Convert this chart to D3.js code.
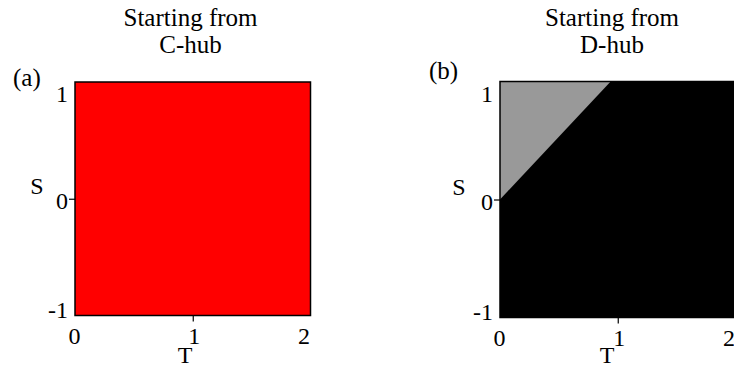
<!DOCTYPE html>
<html>
<head>
<meta charset="utf-8">
<script src="https://cdn.jsdelivr.net/npm/d3@7"></script>
<style>
  body { margin: 0; background: #fff; }
  text { font-family: "Liberation Serif", "Times New Roman", Times, serif; fill: #000; }
</style>
</head>
<body>
<svg id="chart" width="734" height="370"></svg>
<script>
// ---- data ----
const panelLabels = ["(a)", "(b)"];
const titleLine1 = ["Starting from", "Starting from"];
const titleLine2 = ["C-hub", "D-hub"];
const tDomain = [0, 2];
const sDomain = [-1, 1];
const tTicks = [0, 1, 2];
const sTicks = [-1, 0, 1];
// regions in (T, S) coordinates
const regionsA = [
  { fill: "#ff0000", pts: [[0, -1], [2, -1], [2, 1], [0, 1]] }
];
const regionsB = [
  { fill: "#000000", pts: [[0, -1], [2, -1], [2, 1], [0, 1]] },
  { fill: "#999999", pts: [[0, 0], [0, 1], [0.94, 1]] }
];
const panelRegions = [regionsA, regionsB];

// ---- layout ----
const svg = d3.select("#chart");
const layouts = [
  { x0: 75, x1: 310.5, y0: 315.5, y1: 82, titleX: 190.5, lab: [13, 86], sLab: [37, 194], tLab: [185, 363] },
  { x0: 500, x1: 735.5, y0: 317.5, y1: 81.5, titleX: 612, lab: [429, 79], sLab: [459, 195], tLab: [607, 363] }
];
const yLabelShift = { "1": 12, "0": 2, "-1": -6 };
const xLabelShift = { "0": -1, "1": 1, "2": -7 };

layouts.forEach((L, i) => {
  const x = d3.scaleLinear().domain(tDomain).range([L.x0, L.x1]);
  const y = d3.scaleLinear().domain(sDomain).range([L.y0, L.y1]);
  const g = svg.append("g");

  const line = d3.line().x(d => x(d[0])).y(d => y(d[1]));
  g.selectAll("path.region").data(panelRegions[i]).enter().append("path")
    .attr("class", "region")
    .attr("d", d => line(d.pts) + "Z")
    .attr("fill", d => d.fill)
    .attr("stroke", "none");

  g.append("rect")
    .attr("x", x(tDomain[0])).attr("y", y(sDomain[1]))
    .attr("width", x(tDomain[1]) - x(tDomain[0]))
    .attr("height", y(sDomain[0]) - y(sDomain[1]))
    .attr("fill", "none").attr("stroke", "#000").attr("stroke-width", 1.5);

  const xAxis = g.append("g")
    .attr("transform", `translate(0,${L.y0})`)
    .call(d3.axisBottom(x).tickValues(tTicks).tickFormat(d3.format("d")).tickSize(6).tickPadding(5));
  const yAxis = g.append("g")
    .attr("transform", `translate(${L.x0},0)`)
    .call(d3.axisLeft(y).tickValues(sTicks).tickFormat(d => d3.format("d")(d).replace("−", "-")).tickSize(6).tickPadding(1));
  [xAxis, yAxis].forEach(a => {
    a.select(".domain").remove();
    a.selectAll("line").attr("stroke", "#000").attr("stroke-width", 1.2);
    a.selectAll("text").style("font-family", '"Liberation Serif", "Times New Roman", Times, serif').style("font-size", "24px").attr("fill", "#000");
  });
  xAxis.selectAll(".tick line").filter(d => d === 0 || d === 2).remove();
  yAxis.selectAll(".tick line").filter(d => d !== 0).remove();
  xAxis.selectAll("text").attr("dx", d => xLabelShift[String(d)]);
  yAxis.selectAll("text").attr("dy", d => (0.32 * 24 + yLabelShift[String(d)]) + "px");

  g.append("text").attr("x", L.titleX).attr("y", 26).attr("text-anchor", "middle")
    .style("font-size", "25px").text(titleLine1[i]);
  g.append("text").attr("x", L.titleX).attr("y", 53).attr("text-anchor", "middle")
    .style("font-size", "25px").text(titleLine2[i]);
  g.append("text").attr("x", L.lab[0]).attr("y", L.lab[1])
    .style("font-size", "25px").text(panelLabels[i]);
  g.append("text").attr("x", L.sLab[0]).attr("y", L.sLab[1]).attr("text-anchor", "middle")
    .style("font-size", "24px").text("S");
  g.append("text").attr("x", L.tLab[0]).attr("y", L.tLab[1]).attr("text-anchor", "middle")
    .style("font-size", "24px").text("T");
});
</script>
</body>
</html>
